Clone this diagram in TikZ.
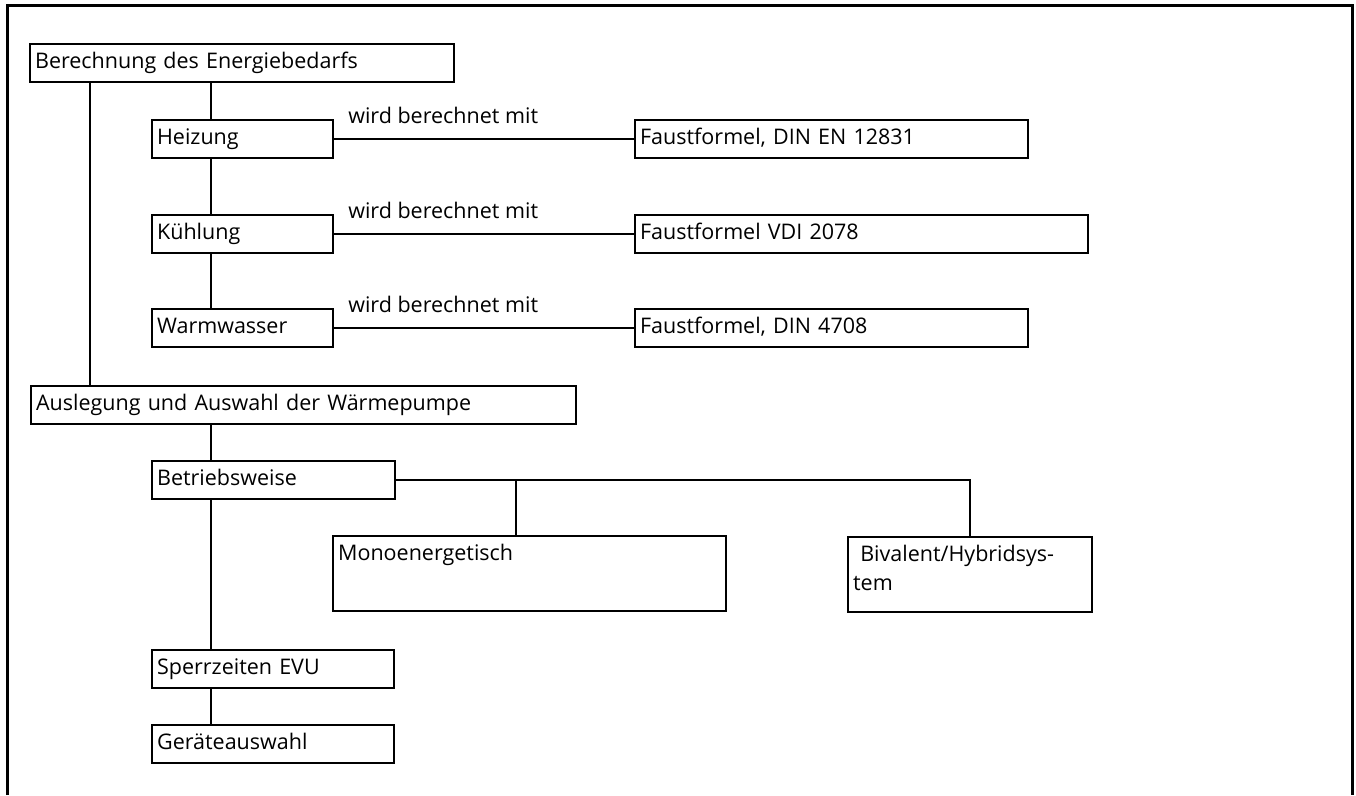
\documentclass[tikz,border=0pt]{standalone}
\usepackage{fontspec}
\setmainfont{Open Sans}
\tikzset{
    box/.style={draw, line width=2.2pt, anchor=north west, inner xsep=5pt, inner ysep=8.5pt,
        text height=16pt, text depth=5pt, text width=#1, align=left,
        font=\fontsize{21.5}{29}\selectfont},
    tallbox/.style={box=#1, text depth=42pt},
    lbl/.style={anchor=south west, inner xsep=13pt, inner ysep=10pt,
        text height=16pt, text depth=5pt, font=\fontsize{21.5}{29}\selectfont},
    link/.style={line width=2.2pt}
}
\begin{document}
\begin{tikzpicture}[x=1pt, y=-1pt]
    \useasboundingbox (0,0) rectangle (1356,795);
    % frame
    \draw[line width=3pt] (7,795) -- (7,5) -- (1352,5) -- (1352,795);

    % Energiebedarf
    \node[box=414pt] (bed) at (29,43) {Berechnung des Energiebedarfs};
    \node[box=171pt] (heiz) at (151,119) {Heizung};
    \node[box=171pt] (kuehl) at (151,214) {Kühlung};
    \node[box=171pt] (warm) at (151,308) {Warmwasser};
    \node[box=383pt] (f1) at (634,119) {Faustformel, DIN EN 12831};
    \node[box=443pt] (f2) at (634,214) {Faustformel VDI 2078};
    \node[box=383pt] (f3) at (634,308) {Faustformel, DIN 4708};

    \coordinate (h0) at ([xshift=60pt]heiz.north west);
    \draw[link] (h0) -- (h0 |- bed.south);
    \draw[link] ([xshift=60pt]heiz.south west) -- ([xshift=60pt]kuehl.north west);
    \draw[link] ([xshift=60pt]kuehl.south west) -- ([xshift=60pt]warm.north west);
    \draw[link] (heiz) -- (f1) node[lbl, pos=0] {wird berechnet mit};
    \draw[link] (kuehl) -- (f2) node[lbl, pos=0] {wird berechnet mit};
    \draw[link] (warm) -- (f3) node[lbl, pos=0] {wird berechnet mit};

    % Waermepumpe
    \node[box=535pt] (ausl) at (30,385) {Auslegung und Auswahl der Wärmepumpe};
    \node[box=233pt] (betr) at (151,460) {Betriebsweise};
    \node[tallbox=383pt] (mono) at (332,535) {Monoenergetisch};
    \node[tallbox=234pt] (biv) at (847,536) {~Bivalent/Hybridsys-\\tem};
    \node[box=232pt] (sperr) at (151,649) {Sperrzeiten EVU};
    \node[box=232pt] (geraet) at (151,724) {Geräteauswahl};

    \coordinate (m0) at ([xshift=60pt]ausl.north west);
    \draw[link] (m0) -- (m0 |- bed.south);
    \coordinate (b0) at ([xshift=60pt]betr.north west);
    \draw[link] (b0) -- (b0 |- ausl.south);
    \draw[link] (betr.east) -| (biv.north);
    \coordinate (mo) at ([xshift=-14pt]mono.north);
    \draw[link] (mo) -- (mo |- betr.east);
    \draw[link] ([xshift=60pt]betr.south west) -- ([xshift=60pt]sperr.north west);
    \draw[link] ([xshift=60pt]sperr.south west) -- ([xshift=60pt]geraet.north west);
\end{tikzpicture}
\end{document}
